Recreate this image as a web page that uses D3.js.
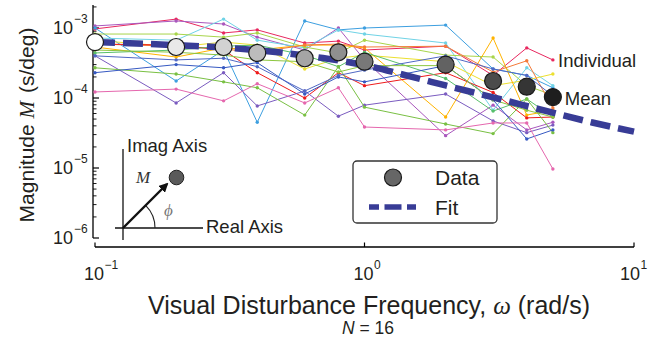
<!DOCTYPE html>
<html>
<head>
<meta charset="utf-8">
<script src="https://cdn.jsdelivr.net/npm/d3@7"></script>
<style>
  body { margin: 0; background: #fff; }
  svg { display: block; }
  text { font-family: "Liberation Sans", Arial, Helvetica, sans-serif; fill: #231f20; }
  .serif { font-family: "Liberation Serif", "DejaVu Serif", serif; font-style: italic; }
</style>
</head>
<body>
<svg id="chart" width="649" height="341"></svg>
<script>
// Stimulus frequencies (rad/s)
const freqs = [0.1, 0.2, 0.3, 0.4, 0.6, 0.8, 1, 2, 3, 4, 5];

// Mean magnitude across subjects (s/deg)
const meanMag = [6.3e-4, 5.35e-4, 5.35e-4, 4.4e-4, 3.7e-4, 4.5e-4, 3.3e-4, 3.0e-4, 1.75e-4, 1.45e-4, 1.03e-4];

// Fitted model magnitude
const fitFreqs = [0.1, 0.2, 0.3, 0.5, 0.7, 1, 1.5, 2, 3, 5, 7, 10];
const fitMag = [6.31e-4, 5.69e-4, 5.25e-4, 4.42e-4, 3.72e-4, 2.95e-4, 2.0e-4, 1.51e-4, 1.02e-4, 6.17e-5, 4.47e-5, 3.31e-5];

// Individual subject magnitudes (N = 16), one row per subject
const individualMag = [
  [9.7e-4, 1.34e-3, 8.5e-4, 9.4e-4, 6.1e-4, 6.5e-4, 4.85e-4, 5.5e-4, 2.1e-4, 5.2e-4, 3.5e-4],
  [1.07e-3, 1.26e-3, 1.14e-3, 7.4e-4, 4.85e-4, 1.0e-3, 3.5e-4, 2.9e-5, 7.9e-5, 3.5e-5, 4.5e-5],
  [1.0e-3, 1.75e-4, 4.85e-4, 4.5e-5, 1.26e-3, 9.4e-4, 1.0e-3, 1.1e-3, 2.6e-4, 2.1e-4, 1.4e-4],
  [7.2e-4, 6.7e-4, 1.34e-3, 6.7e-4, 5.2e-4, 9.4e-4, 8.2e-4, 6.1e-4, 6.7e-5, 2.7e-4, 1.5e-4],
  [8.2e-4, 8.2e-4, 7.4e-4, 8.5e-4, 5.35e-4, 4.4e-4, 6.7e-4, 4.1e-4, 3.85e-4, 1.5e-4, 1.1e-4],
  [6.7e-4, 5.35e-4, 6.3e-4, 5.7e-4, 2.6e-4, 3.7e-4, 4.1e-4, 3.3e-4, 1.5e-4, 1.8e-4, 2.2e-4],
  [5.35e-4, 3.85e-4, 5.2e-4, 4.85e-4, 5.7e-4, 5.7e-4, 5.2e-4, 5.35e-5, 7.2e-4, 5.7e-5, 6.7e-5],
  [5.9e-4, 5.5e-4, 5.0e-4, 4.5e-4, 5.7e-4, 5.9e-4, 5.35e-4, 5.5e-4, 2.35e-4, 3.4e-4, 7.2e-5],
  [5.9e-4, 5.7e-4, 4.85e-4, 2.3e-4, 1.0e-4, 2.3e-4, 1.5e-4, 2.3e-4, 1.2e-4, 5.2e-5, 5.35e-5],
  [4.4e-4, 4.85e-4, 5.5e-4, 5.7e-4, 4.1e-4, 2.8e-4, 4.5e-4, 1.9e-4, 6.5e-5, 9.7e-5, 5.35e-5],
  [4.0e-4, 8.5e-5, 2.3e-4, 7.7e-5, 1.26e-4, 5.5e-5, 7.9e-5, 1.14e-4, 4.7e-5, 3.2e-5, 4.1e-5],
  [2.7e-4, 2.2e-4, 1.7e-4, 1.4e-4, 5.7e-5, 2.8e-4, 7.4e-5, 4.25e-5, 3.1e-5, 9.7e-5, 3.2e-5],
  [2.3e-4, 3.0e-4, 2.7e-4, 3.2e-4, 1.14e-4, 2.0e-4, 1.7e-4, 2.9e-4, 9.4e-5, 2.6e-5, 3.5e-5],
  [1.22e-4, 1.34e-4, 9.1e-5, 1.6e-4, 8.5e-5, 1.4e-4, 3.85e-5, 3.5e-5, 4.4e-5, 4.4e-5, 9.7e-6],
  [4.0e-4, 3.5e-4, 3.7e-4, 2.8e-4, 1.26e-4, 2.1e-4, 2.5e-4, 4.0e-4, 2.6e-4, 2.1e-4, 1.07e-4],
  [4.85e-4, 4.5e-4, 4.1e-4, 3.5e-4, 3.3e-4, 2.35e-4, 2.9e-4, 2.9e-4, 9.4e-5, 6.7e-5, 5.35e-5]
];
const subjectColors = [
  "#e8285f", "#a957bd", "#3d9fe0", "#6fd3e6", "#a8d54a", "#ece02f", "#ffb300", "#f47a3a",
  "#ee1b1b", "#58bf6a", "#7b5cc0", "#79c043", "#3659c2", "#e567ae", "#5068c4", "#8cc63f"
];

const xTicks = [0.1, 1, 10];
const xTickExp = ["\u22121", "0", "1"];
const yTicks = [1e-6, 1e-5, 1e-4, 1e-3];
const yTickExp = ["\u22126", "\u22125", "\u22124", "\u22123"];

const svg = d3.select("#chart");

const x = d3.scaleLog().domain([0.1, 10]).range([95, 634]);
const y = d3.scaleLog().domain([1e-6, Math.pow(10, -2.6714)]).range([238, 5]);

// ---- Axes (detached, ticks pointing inward) ----
const axisG = svg.append("g");
axisG.append("line").attr("x1", 93).attr("x2", 93)
  .attr("y1", y.range()[1]).attr("y2", y.range()[0])
  .attr("stroke", "#000").attr("stroke-width", 1.3);
const yMinor = [];
for (let e = -6; e < -2; e++) for (let m = 2; m <= 9; m++) {
  const v = m * Math.pow(10, e);
  if (v <= y.domain()[1]) yMinor.push(v);
}
axisG.selectAll(".ymin").data(yMinor).join("line")
  .attr("x1", 93).attr("x2", 96.5)
  .attr("y1", d => y(d)).attr("y2", d => y(d))
  .attr("stroke", "#000").attr("stroke-width", 0.9);
axisG.selectAll(".ymaj").data(yTicks).join("line")
  .attr("x1", 93).attr("x2", 99)
  .attr("y1", d => y(d)).attr("y2", d => y(d))
  .attr("stroke", "#000").attr("stroke-width", 1.2);
yTicks.forEach((t, i) => {
  svg.append("text").attr("x", 73).attr("y", y(t) + 6)
    .attr("text-anchor", "end").attr("font-size", 18).text("10");
  svg.append("text").attr("x", 74).attr("y", y(t) - 5)
    .attr("font-size", 12).text(yTickExp[i]);
});

const xAxisY = 247;
axisG.append("line").attr("x1", x(0.1)).attr("x2", x(10))
  .attr("y1", xAxisY).attr("y2", xAxisY)
  .attr("stroke", "#000").attr("stroke-width", 1.3);
axisG.selectAll(".xmaj").data(xTicks).join("line")
  .attr("x1", d => x(d)).attr("x2", d => x(d))
  .attr("y1", xAxisY).attr("y2", xAxisY - 4.5)
  .attr("stroke", "#000").attr("stroke-width", 1.2);
xTicks.forEach((t, i) => {
  // the last label is nudged left so it stays inside the frame
  const shift = i === xTicks.length - 1 ? -4 : -1;
  svg.append("text").attr("x", x(t) + shift).attr("y", 280)
    .attr("text-anchor", "middle").attr("font-size", 18).text("10");
  svg.append("text").attr("x", x(t) + shift + 10.5).attr("y", 269)
    .attr("font-size", 12).text(xTickExp[i]);
});

// axis titles
const xl = svg.append("text").attr("x", 369).attr("y", 314)
  .attr("text-anchor", "middle").attr("font-size", 25);
xl.append("tspan").text("Visual Disturbance Frequency, ");
xl.append("tspan").attr("class", "serif").text("\u03c9");
xl.append("tspan").text(" (rad/s)");

const nl = svg.append("text").attr("x", 368).attr("y", 334)
  .attr("text-anchor", "middle").attr("font-size", 17.5);
nl.append("tspan").attr("font-style", "italic").text("N");
nl.append("tspan").text(" = 16");

const yl = svg.append("text")
  .attr("transform", "translate(34,125) rotate(-90)")
  .attr("text-anchor", "middle").attr("font-size", 21);
yl.append("tspan").text("Magnitude ");
yl.append("tspan").attr("class", "serif").text("M");
yl.append("tspan").attr("dx", 8).text("(s/deg)");

// ---- Individual subjects ----
const line = d3.line().x((d, i) => x(freqs[i])).y(d => y(d));
const indG = svg.append("g");
individualMag.forEach((row, s) => {
  indG.append("path").attr("d", line(row))
    .attr("fill", "none").attr("stroke", subjectColors[s])
    .attr("stroke-width", 1).attr("stroke-linejoin", "round");
  indG.selectAll(null).data(row).join("circle")
    .attr("cx", (d, i) => x(freqs[i])).attr("cy", d => y(d))
    .attr("r", 1.7).attr("fill", subjectColors[s]);
});

// ---- Fit ----
const fitLine = d3.line().curve(d3.curveMonotoneX)
  .x((d, i) => x(fitFreqs[i])).y(d => y(d));
svg.append("path").attr("d", fitLine(fitMag))
  .attr("fill", "none").attr("stroke", "#383c96")
  .attr("stroke-width", 6.5).attr("stroke-dasharray", "20 8");

// ---- Mean markers, shaded light to dark with frequency ----
const shade = d3.interpolateRgb("#ffffff", "#1e1e1e");
svg.append("g").selectAll("circle").data(meanMag).join("circle")
  .attr("cx", (d, i) => x(freqs[i])).attr("cy", d => y(d))
  .attr("r", 8.5)
  .attr("fill", (d, i) => shade(i / (freqs.length - 1)))
  .attr("stroke", "#1a1a1a").attr("stroke-width", 1.2);

// series labels
const lastIdx = freqs.length - 1;
svg.append("text").attr("x", 558).attr("y", 67).attr("font-size", 18.5).text("Individual");
svg.append("text").attr("x", x(freqs[lastIdx]) + 12).attr("y", y(meanMag[lastIdx]) + 8)
  .attr("font-size", 18.5).text("Mean");

// ---- Legend ----
const lg = svg.append("g");
lg.append("rect").attr("x", 353).attr("y", 161).attr("width", 144).attr("height", 62)
  .attr("rx", 4).attr("fill", "#fff").attr("stroke", "#333").attr("stroke-width", 1.3);
lg.append("circle").attr("cx", 393).attr("cy", 177.5).attr("r", 8.5)
  .attr("fill", "#666").attr("stroke", "#1a1a1a").attr("stroke-width", 1.2);
lg.append("text").attr("x", 435).attr("y", 185).attr("font-size", 21).text("Data");
lg.append("line").attr("x1", 369).attr("x2", 416).attr("y1", 207).attr("y2", 207)
  .attr("stroke", "#383c96").attr("stroke-width", 5.5).attr("stroke-dasharray", "10 5.5 17 5.5 10");
lg.append("text").attr("x", 435).attr("y", 215).attr("font-size", 21).text("Fit");

// ---- Inset: magnitude / phase on the complex plane ----
const ox = 123, oy = 228;
const inset = svg.append("g");
inset.append("line").attr("x1", ox).attr("x2", ox).attr("y1", 149).attr("y2", 240)
  .attr("stroke", "#111").attr("stroke-width", 1.3);
inset.append("line").attr("x1", 115).attr("x2", 203).attr("y1", oy).attr("y2", oy)
  .attr("stroke", "#111").attr("stroke-width", 1.3);
inset.append("text").attr("x", 127).attr("y", 152).attr("font-size", 18.5).text("Imag Axis");
inset.append("text").attr("x", 206).attr("y", 233).attr("font-size", 18.5).text("Real Axis");
const arc = d3.arc().innerRadius(32).outerRadius(32).startAngle(Math.PI / 4).endAngle(Math.PI / 2);
inset.append("path").attr("d", arc()).attr("transform", `translate(${ox},${oy})`)
  .attr("fill", "none").attr("stroke", "#222").attr("stroke-width", 1.1);
svg.append("defs").append("marker").attr("id", "ah")
  .attr("viewBox", "0 0 10 10").attr("refX", 8).attr("refY", 5)
  .attr("markerWidth", 4).attr("markerHeight", 4).attr("orient", "auto")
  .append("path").attr("d", "M0,0 L10,5 L0,10 Z").attr("fill", "#111");
inset.append("line").attr("x1", ox).attr("y1", oy).attr("x2", 167).attr("y2", 184)
  .attr("stroke", "#111").attr("stroke-width", 2.4).attr("marker-end", "url(#ah)");
inset.append("circle").attr("cx", 176.5).attr("cy", 177.5).attr("r", 7.3)
  .attr("fill", "#5a5a5a").attr("stroke", "#222").attr("stroke-width", 1);
inset.append("text").attr("class", "serif").attr("x", 136).attr("y", 183)
  .attr("font-size", 17).style("fill", "#333").text("M");
inset.append("text").attr("class", "serif").attr("x", 164).attr("y", 216)
  .attr("font-size", 17).style("fill", "#777").text("\u03d5");
</script>
</body>
</html>
